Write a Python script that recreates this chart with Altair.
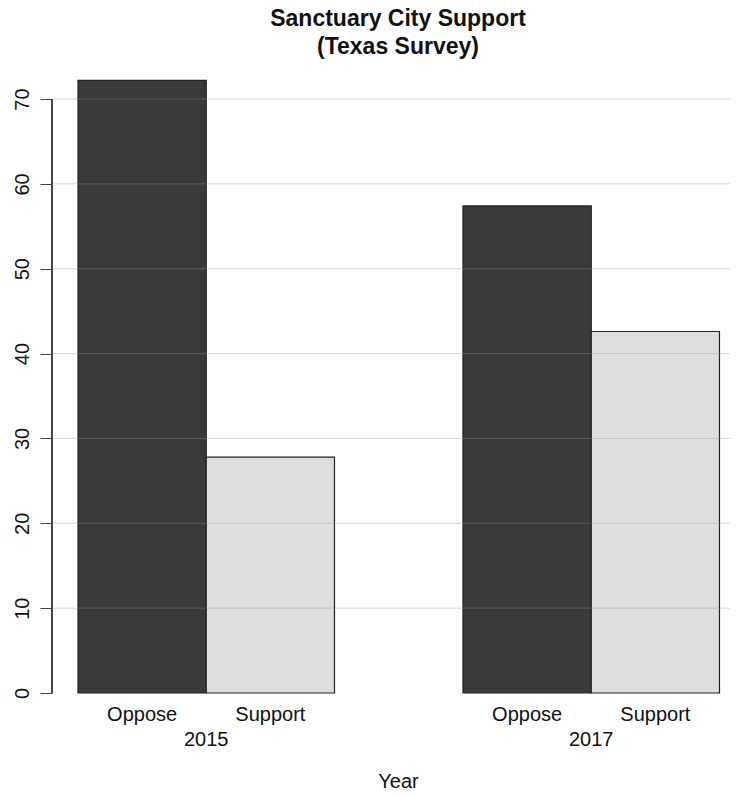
import altair as alt
import pandas as pd

# ---- data ----
years = ["2015", "2015", "2017", "2017"]
responses = ["Oppose", "Support", "Oppose", "Support"]
values = [72.2, 27.8, 57.4, 42.6]
y_ticks = [0, 10, 20, 30, 40, 50, 60, 70]
grid_ticks = [10, 20, 30, 40, 50, 60, 70]
title_lines = ["Sanctuary City Support", "(Texas Survey)"]
x_title = "Year"
response_order = ["Oppose", "Support"]
bar_colors = ["#3a3a3a", "#dedede"]

df = pd.DataFrame({"Year": years, "Response": responses, "Percent": values})
grid_df = pd.DataFrame({"tick": grid_ticks})

W, H = 678, 637
FONT = "Liberation Sans"
TXT = "#111111"

x_scale = alt.Scale(paddingInner=0.3338, paddingOuter=0.0474, align=0.712)
y_scale = alt.Scale(domain=[0, 75.07], nice=False, zero=True)

x_axis = alt.Axis(
    title=x_title, labelAngle=0, domain=False, ticks=False, tickSize=0,
    labelPadding=52, labelBaseline="alphabetic", labelFontSize=20,
    labelFont=FONT, labelColor=TXT, titleFontSize=20, titleFont=FONT,
    titleFontWeight="normal", titleY=94, titleX=346,
    titleBaseline="alphabetic", titleColor=TXT,
)
y_axis = alt.Axis(
    values=y_ticks, grid=False, domain=False, ticks=True, tickSize=12,
    tickColor="#444444", tickWidth=1, labelAngle=-90, labelAlign="center",
    labelBaseline="bottom", labelPadding=8, labelFontSize=20, labelFont=FONT,
    labelColor=TXT, title=None,
)

base = alt.Chart(df)

bars = base.mark_bar(stroke="#222222", strokeWidth=1.2).encode(
    x=alt.X("Year:N", scale=x_scale, axis=x_axis),
    xOffset=alt.XOffset("Response:N", sort=response_order,
                        scale=alt.Scale(paddingInner=0, paddingOuter=0)),
    y=alt.Y("Percent:Q", scale=y_scale, axis=y_axis),
    fill=alt.Fill("Response:N", sort=response_order,
                  scale=alt.Scale(domain=response_order, range=bar_colors),
                  legend=None),
)

resp_labels = base.mark_text(
    font=FONT, fontSize=20, color=TXT, baseline="alphabetic", dy=28
).encode(
    x=alt.X("Year:N", scale=x_scale, axis=x_axis),
    xOffset=alt.XOffset("Response:N", sort=response_order,
                        scale=alt.Scale(paddingInner=0, paddingOuter=0)),
    y=alt.datum(0, scale=y_scale),
    text="Response:N",
)

grid = alt.Chart(grid_df).mark_rule(color="#939393", opacity=0.36, strokeWidth=1).encode(
    y=alt.Y("tick:Q", scale=y_scale),
    x=alt.value(1),
    x2=alt.value(W),
)

axis_line = alt.Chart(grid_df).mark_rule(color="#444444", strokeWidth=1).encode(
    x=alt.value(0),
    y=alt.datum(y_ticks[0]),
    y2=alt.datum(y_ticks[-1]),
)

chart = alt.layer(bars, resp_labels, grid, axis_line).properties(
    width=W,
    height=H,
    background="white",
    title=alt.Title(
        title_lines, font=FONT, fontSize=23, fontWeight="bold", color=TXT,
        anchor="middle", frame="group", lineHeight=28, baseline="bottom",
        offset=-26, dx=7,
    ),
    autosize=alt.AutoSizeParams(type="none"),
    padding={"left": 44, "top": 48, "right": 0, "bottom": 96},
).configure_view(stroke="transparent", strokeWidth=0)

chart.save("out.html", embed_options={"renderer": "svg", "actions": False})
